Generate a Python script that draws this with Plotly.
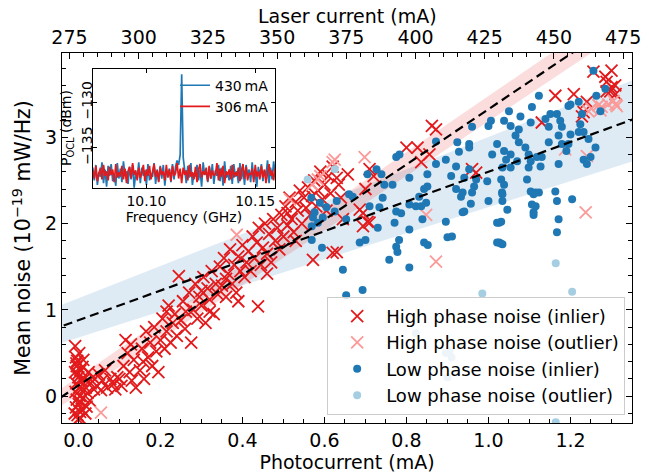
import numpy as np
import plotly.graph_objects as go

# ---------------- data ----------------
# High phase noise (inlier): photocurrent (mA), mean noise (1e-19 mW/Hz)
hi_in_x = [-0.008, -0.006, -0.004, -0.008, 0.0, -0.005, 0.002, -0.007, 0.003, -0.004, 0.001, -0.006, 0.004,
           -0.002, 0.0, 0.005, 0.006, -0.003, 0.002, -0.009, 0.003, 0.006, -0.001, 0.004, -0.005,
           0.01, 0.015, 0.012, 0.018, 0.02, 0.025, 0.022, 0.03, 0.028, 0.035, 0.012, 0.017, 0.038, 0.008,
           0.045, 0.05, 0.058, 0.065, 0.07, 0.078, 0.085, 0.055,
           0.09, 0.1, 0.105, 0.11, 0.115, 0.12, 0.125, 0.13, 0.135, 0.14, 0.128, 0.095,
           0.15, 0.155, 0.16, 0.165, 0.17, 0.175, 0.18, 0.185, 0.19, 0.195, 0.2, 0.158,
           0.205, 0.21, 0.215, 0.22, 0.225, 0.23, 0.235, 0.24, 0.245, 0.25, 0.255, 0.26, 0.215, 0.262,
           0.27, 0.275, 0.28, 0.285, 0.29, 0.295, 0.3, 0.305, 0.31, 0.315, 0.32, 0.325, 0.33, 0.335, 0.34, 0.345, 0.3, 0.32,
           0.35, 0.355, 0.36, 0.365, 0.37, 0.375, 0.38, 0.385, 0.39, 0.395, 0.4, 0.405, 0.41, 0.36, 0.39,
           0.415, 0.42, 0.425, 0.43, 0.435, 0.438, 0.44, 0.445, 0.45, 0.455, 0.46, 0.465, 0.47, 0.475, 0.48, 0.485, 0.49, 0.46,
           0.495, 0.5, 0.505, 0.51, 0.515, 0.52, 0.525, 0.53, 0.535, 0.54, 0.545, 0.55, 0.555, 0.56, 0.565, 0.57, 0.51, 0.53, 0.572,
           0.575, 0.58, 0.585, 0.59, 0.595, 0.6, 0.605, 0.61, 0.615, 0.62, 0.63, 0.63, 0.635, 0.64, 0.657, 0.645, 0.62, 0.686, 0.705,
           0.694, 0.71, 0.694, 0.70, 0.71, 0.72, 0.80, 0.827, 0.856, 0.836, 0.872, 0.862, 0.97, 0.96,
           1.13, 1.163, 1.208, 1.232, 1.24, 1.228, 1.256, 1.285, 1.3, 1.288, 1.309, 1.297, 1.3, 1.31, 1.288]
hi_in_y = [0.58, 0.45, 0.35, 0.28, 0.22, 0.15, 0.10, 0.05, 0.0, -0.04, -0.09, -0.13, -0.18,
           -0.22, -0.27, 0.30, 0.18, 0.41, 0.50, -0.20, -0.25, 0.08, 0.26, -0.06, 0.38,
           0.34, 0.20, -0.02, 0.10, -0.12, 0.28, 0.04, 0.15, -0.05, 0.22, 0.42, -0.20, 0.08, -0.15,
           0.12, 0.25, 0.18, 0.30, 0.10, 0.20, 0.14, 0.07,
           0.08, 0.20, 0.12, 0.35, 0.65, 0.50, 0.28, 0.18, 0.42, 0.10, 0.60, 0.22,
           0.30, 0.55, 0.20, 0.75, 0.45, 0.62, 0.35, 0.80, 0.52, 0.28, 0.65, 0.40,
           0.90, 0.55, 0.75, 1.05, 0.62, 0.85, 0.95, 0.70, 1.39, 0.88, 1.10, 0.78, 0.98, 0.98,
           1.20, 0.62, 1.00, 1.30, 0.90, 1.15, 1.05, 1.38, 0.85, 1.25, 1.12, 1.45, 0.95, 1.30, 1.18, 1.50, 1.22, 0.98,
           1.28, 1.60, 1.15, 1.42, 1.70, 1.30, 1.52, 1.20, 1.62, 1.45, 1.75, 1.38, 1.55, 1.36, 1.10,
           1.68, 1.45, 1.85, 1.60, 1.78, 1.04, 1.95, 1.52, 1.72, 2.00, 1.65, 1.88, 1.55, 2.05, 1.80, 1.95, 1.70, 1.42,
           2.10, 1.85, 2.20, 1.98, 2.30, 2.05, 1.90, 2.25, 2.15, 2.38, 2.00, 2.30, 2.18, 2.42, 2.10, 2.32, 2.12, 1.80, 1.58,
           2.50, 2.20, 2.38, 2.60, 2.28, 2.45, 2.15, 2.55, 2.35, 1.66, 2.53, 1.67, 2.45, 2.30, 2.57, 2.05, 2.66, 2.16, 2.02,
           2.12, 2.01, 1.97, 2.40, 2.63, 2.55, 2.88, 2.88, 2.80, 2.71, 3.09, 3.13, 2.59, 2.63,
           3.17, 3.48, 3.50, 3.29, 3.41, 3.24, 3.76, 3.70, 3.77, 3.64, 3.60, 3.53, 3.58, 3.50, 3.53]

# High phase noise (outlier)
hi_out_x = [0.055, 0.386, 0.516, 0.584, 0.62, 0.625, 0.698, 0.848, 0.872, 1.187, 1.24, 1.237,
            1.251, 1.276, 1.292, 1.31, 1.305, 1.313, 1.268, 1.244, 1.273, 0.59, 0.57]
hi_out_y = [-0.19, 1.87, 2.28, 2.51, 2.71, 2.74, 2.77, 2.10, 1.56, 2.86, 2.78, 2.13,
            3.33, 3.35, 3.38, 3.38, 3.42, 3.36, 3.37, 3.30, 3.31, 2.55, 2.45]

# Low phase noise (inlier)
lo_in_x = [0.568, 0.589, 0.605, 0.576, 0.572, 0.596, 0.584, 0.569, 0.63, 0.625, 0.569, 0.594,
           0.645, 0.653, 0.693, 0.686, 0.70, 0.73, 0.71, 0.734, 0.742, 0.727, 0.739, 0.746, 0.766,
           0.758, 0.775, 0.778, 0.782, 0.771, 0.775, 0.787, 0.807, 0.807, 0.807, 0.775, 0.783, 0.807,
           0.831, 0.823, 0.836, 0.848, 0.851, 0.843, 0.839, 0.843, 0.872, 0.872, 0.896, 0.909, 0.896,
           0.90, 0.911, 0.924, 0.928, 0.921, 0.933, 0.941, 0.941, 0.953, 0.96, 0.965, 0.66, 0.669,
           0.653, 0.705, 0.852, 1.026, 1.03, 0.937, 0.957, 1.026, 1.033, 1.11, 1.115, 0.851, 0.921, 0.937,
           1.006, 1.0, 1.05, 1.038, 1.054, 1.078, 1.074, 1.103, 1.123, 1.106, 1.139, 1.151, 1.167,
           1.147, 1.175, 1.179, 1.171, 1.195, 1.22, 1.224, 1.232, 1.2, 1.256, 1.263, 1.273, 0.953,
           0.953, 0.96, 0.97, 0.997, 1.0, 1.009, 1.021, 1.038, 1.054, 1.043, 1.054, 1.034, 1.031,
           1.038, 1.034, 1.034, 1.031, 1.021, 1.021, 1.034, 1.046, 1.066, 1.074, 1.09, 1.07, 1.098,
           1.103, 1.098, 1.094, 1.103, 1.11, 1.106, 1.115, 1.123, 1.11, 1.118, 1.13, 1.127, 1.147,
           1.163, 1.167, 1.171, 1.171, 1.167, 1.179, 1.195, 1.19, 1.204, 1.22, 1.244, 1.232, 1.24,
           1.249, 1.261, 1.2, 1.228, 1.285]
lo_in_y = [2.30, 2.24, 2.19, 2.13, 2.07, 2.07, 2.01, 1.97, 2.26, 2.14, 1.81, 1.72,
           1.465, 1.17, 1.23, 1.78, 1.81, 1.95, 2.20, 2.19, 2.30, 2.63, 2.57, 2.45, 2.45,
           1.58, 1.73, 1.67, 1.81, 2.01, 2.14, 2.12, 1.49, 1.93, 2.22, 2.77, 2.80, 2.53,
           2.31, 2.20, 2.20, 2.24, 2.57, 2.40, 2.05, 1.78, 2.69, 2.95, 2.74, 2.55, 2.02,
           1.84, 1.85, 2.94, 2.83, 2.40, 2.31, 2.14, 2.53, 2.88, 3.12, 2.43, 2.34, 2.31,
           2.05, 2.57, 1.75, 1.78, 1.77, 2.13, 2.23, 2.01, 2.36, 2.13, 2.36, 2.43, 2.66, 2.36,
           3.19, 3.13, 3.30, 3.19, 3.13, 3.24, 3.09, 3.17, 3.48, 3.35, 3.21, 3.27, 3.27,
           3.12, 3.19, 3.12, 3.02, 3.36, 3.41, 3.15, 3.06, 3.03, 3.77, 3.48, 3.30, 2.92,
           2.63, 2.36, 2.51, 2.49, 2.26, 2.80, 2.92, 2.84, 2.80, 2.74, 2.65, 2.65, 2.51,
           2.45, 2.34, 2.26, 2.02, 2.01, 1.78, 1.76, 2.16, 3.02, 2.94, 2.88, 2.72, 2.80,
           2.72, 2.65, 2.51, 2.37, 2.34, 2.22, 2.20, 2.36, 2.10, 2.77, 2.77, 2.66, 2.94,
           2.37, 2.26, 2.69, 2.05, 1.90, 2.92, 2.92, 2.84, 2.28, 3.06, 2.98, 2.74, 2.69,
           2.77, 2.88, 3.38, 3.27, 3.56]

# Low phase noise (outlier)
lo_out_x = [0.625, 0.559, 0.985, 1.164, 1.204, 1.164, 0.823, 0.896, 0.905, 0.90, 0.91]
lo_out_y = [2.63, 2.51, 1.19, 1.54, 1.21, -0.30, 0.73, 0.50, 0.52, 0.22, 0.45]

# Linear fits and their shaded bands: (slope, intercept)
hi_fit = (3.20, 0.124)
hi_band_upper = (3.25, 0.226)
hi_band_lower = (3.16, 0.023)
lo_fit = (1.72, 0.88)
lo_band_upper = (1.867, 1.135)
lo_band_lower = (1.51, 0.68)

# Top axis: laser current tick labels (mA)
laser_ticks = [275, 300, 325, 350, 375, 400, 425, 450, 475]

# Inset spectra (dBm) over 10.0753 ... 10.1592 GHz
spec_430 = [-137.2, -138.6, -136.9, -139.1, -137.7, -138.2, -136.6, -138.9, -137.4, -139.3,
            -137.0, -138.1, -136.8, -138.7, -137.9, -139.2, -136.7, -138.4, -137.3, -138.8,
            -136.5, -138.0, -137.6, -139.0, -137.1, -138.5, -136.9, -139.4, -137.8, -138.3,
            -136.6, -138.9, -137.2, -138.1, -137.5, -139.1, -136.8, -138.6, -137.9, -138.2,
            -136.7, -139.0, -137.4, -138.7, -137.0, -138.4, -136.9, -139.2, -137.6, -138.0,
            -137.3, -138.8, -136.8, -138.5, -137.1, -136.4, -136.9, -135.8, -126.9, -136.1,
            -137.5, -138.9, -137.0, -138.3, -136.7, -139.1, -137.8, -138.2, -136.9, -138.6,
            -137.4, -139.3, -136.6, -138.0, -137.7, -138.8, -137.1, -138.4, -136.8, -139.0,
            -137.5, -138.1, -136.9, -138.7, -137.2, -139.2, -136.5, -138.3, -137.9, -138.6,
            -137.0, -139.0, -136.8, -138.2, -137.6, -138.9, -136.7, -138.5, -137.3, -139.1,
            -136.9, -138.0, -137.4, -138.8, -136.6, -138.4, -137.8, -139.3, -137.1, -138.2,
            -136.8, -138.7, -137.5, -138.1, -136.4, -138.9, -137.2, -138.5, -136.5, -138.0]
spec_306 = [-137.5, -138.4, -137.0, -138.7, -137.8, -137.2, -138.5, -136.9, -138.1, -137.6,
            -138.6, -137.1, -138.0, -137.4, -138.8, -136.8, -138.3, -137.7, -138.2, -137.0,
            -138.5, -137.3, -138.9, -137.6, -137.1, -138.4, -136.7, -138.0, -137.5, -138.6,
            -137.2, -138.3, -137.8, -136.9, -138.7, -137.4, -138.1, -137.0, -138.5, -137.7,
            -136.8, -138.2, -137.5, -138.8, -137.1, -138.0, -137.6, -138.6, -136.9, -138.3,
            -137.4, -138.7, -137.0, -138.1, -137.8, -136.7, -138.4, -137.3, -138.9, -137.2,
            -138.0, -137.5, -138.6, -136.9, -138.2, -137.7, -138.5, -137.1, -138.8, -137.4,
            -136.8, -138.3, -137.6, -138.0, -137.2, -138.7, -137.0, -138.4, -137.5, -138.1,
            -137.9, -136.7, -138.6, -137.3, -138.2, -137.0, -138.9, -137.6, -138.0, -137.4,
            -138.5, -136.9, -138.3, -137.7, -138.1, -137.2, -138.7, -137.5, -136.8, -138.4,
            -137.1, -138.6, -137.8, -138.0, -137.3, -138.8, -136.9, -138.2, -137.6, -138.5,
            -137.0, -138.3, -137.4, -138.9, -137.7, -136.8, -138.1, -137.5, -138.6, -137.2]
freq = np.linspace(10.0753, 10.1592, len(spec_430))

# ---------------- styling ----------------
FONT = "DejaVu Sans"
RED = "#e31a1c"
LRED = "#fb9a99"
BLUE = "#1f78b4"
LBLUE = "#a6cee3"
TICK_SIZE = 19
TITLE_SIZE = 19
YTITLE_SIZE = 20.5
INSET_SIZE = 14

fig = go.Figure()

xs = np.array([-0.1, 1.45])


def line(p, x):
    return p[0] * x + p[1]


def band(lo, hi, color):
    bx = [xs[0], xs[1], xs[1], xs[0]]
    by = [line(lo, xs[0]), line(lo, xs[1]), line(hi, xs[1]), line(hi, xs[0])]
    return go.Scatter(x=bx, y=by, fill="toself", fillcolor=color, mode="none",
                      showlegend=False, hoverinfo="skip")


fig.add_trace(band(lo_band_lower, lo_band_upper, "rgba(31,120,180,0.15)"))
fig.add_trace(band(hi_band_lower, hi_band_upper, "rgba(227,26,28,0.15)"))

fig.add_trace(go.Scatter(x=hi_in_x, y=hi_in_y, mode="markers", name="High phase noise (inlier)",
                         marker=dict(symbol="x-thin", size=12, line=dict(width=1.8, color=RED), color=RED),
                         legendgroup="a"))
fig.add_trace(go.Scatter(x=hi_out_x, y=hi_out_y, mode="markers", name="High phase noise (outlier)",
                         marker=dict(symbol="x-thin", size=12, line=dict(width=1.8, color=LRED), color=LRED),
                         legendgroup="b"))
fig.add_trace(go.Scatter(x=lo_in_x, y=lo_in_y, mode="markers", name="Low phase noise (inlier)",
                         marker=dict(symbol="circle", size=8, color=BLUE, line=dict(width=0)),
                         legendgroup="c"))
fig.add_trace(go.Scatter(x=lo_out_x, y=lo_out_y, mode="markers", name="Low phase noise (outlier)",
                         marker=dict(symbol="circle", size=8, color=LBLUE, line=dict(width=0)),
                         legendgroup="d"))

for p in (hi_fit, lo_fit):
    fig.add_trace(go.Scatter(x=xs, y=line(p, xs), mode="lines",
                             line=dict(color="black", width=2.2, dash="9px,5px"),
                             showlegend=False, hoverinfo="skip"))

# helper trace so the top (laser current) axis is drawn
fig.add_trace(go.Scatter(x=laser_ticks, y=[None] * len(laser_ticks), xaxis="x2", yaxis="y",
                         mode="markers", showlegend=False, hoverinfo="skip"))

# inset spectra
fig.add_trace(go.Scatter(x=freq, y=spec_430, xaxis="x3", yaxis="y3", mode="lines",
                         line=dict(color=BLUE, width=1.7), name="430\u2009mA", legend="legend2"))
fig.add_trace(go.Scatter(x=freq, y=spec_306, xaxis="x3", yaxis="y3", mode="lines",
                         line=dict(color=RED, width=1.7), name="306\u2009mA", legend="legend2"))

axis_common = dict(showline=True, linecolor="black", linewidth=1.2, ticks="inside",
                   tickcolor="black", ticklen=6, tickwidth=1.1, showgrid=False, zeroline=False,
                   automargin=False,
                   tickfont=dict(family=FONT, size=TICK_SIZE, color="black"))

fig.update_layout(
    template="none",
    width=649, height=476,
    margin=dict(l=62, r=17, t=53, b=53, autoexpand=False),
    paper_bgcolor="white", plot_bgcolor="white",
    font=dict(family=FONT, color="black"),
    xaxis=dict(axis_common, domain=[0, 1], range=[-0.04, 1.35], tick0=0, dtick=0.2,
               tickformat=".1f", anchor="y",
               minor=dict(dtick=0.05, ticks="inside", ticklen=3.5, tickcolor="black"),
               title=dict(text="Photocurrent (mA)", font=dict(family=FONT, size=TITLE_SIZE), standoff=4)),
    xaxis2=dict(axis_common, overlaying="x", side="top", anchor="y", range=[272.3, 478.2],
                tickvals=laser_ticks, ticktext=[str(v) for v in laser_ticks],
                minor=dict(dtick=5, tick0=275, ticks="inside", ticklen=3.5, tickcolor="black")),
    yaxis=dict(axis_common, domain=[0, 1], range=[-0.31, 3.975], tick0=0, dtick=1, mirror="ticks",
               minor=dict(dtick=0.2, ticks="inside", ticklen=3.5, tickcolor="black"),
               title=dict(text="Mean noise (10<sup>\u221219</sup> mW/Hz)",
                          font=dict(family=FONT, size=YTITLE_SIZE), standoff=8)),
    xaxis3=dict(axis_common, domain=[0.054, 0.374], anchor="y3", range=[10.0753, 10.1592],
                tickvals=[10.10, 10.15], tickformat=".2f", mirror="ticks", ticklen=4,
                tickfont=dict(family=FONT, size=INSET_SIZE, color="black"),
                title=dict(text="Frequency (GHz)", font=dict(family=FONT, size=INSET_SIZE), standoff=0)),
    yaxis3=dict(axis_common, domain=[0.635, 0.957], anchor="x3", range=[-139.45, -126.3],
                tickvals=[-135, -130], tickangle=-90, mirror="ticks", ticklen=4,
                ticklabelstandoff=-6,
                tickfont=dict(family=FONT, size=INSET_SIZE, color="black")),
    legend=dict(x=0.988, xanchor="right", y=0.022, yanchor="bottom",
                bgcolor="rgba(255,255,255,0.8)", bordercolor="#cccccc", borderwidth=1,
                font=dict(family=FONT, size=18, color="black"),
                traceorder="grouped", tracegroupgap=0, itemwidth=48),
    legend2=dict(x=0.372, xanchor="right", y=0.955, yanchor="top", bgcolor="rgba(0,0,0,0)",
                 font=dict(family=FONT, size=INSET_SIZE, color="black"), itemwidth=30,
                 tracegroupgap=0),
    annotations=[
        dict(text="P<sub>OCL</sub> (dBm)", textangle=-90, xref="paper", yref="paper",
             x=(67 - 62) / 570, y=1 - (128 - 53) / 370, xanchor="center", yanchor="middle",
             showarrow=False, font=dict(family=FONT, size=INSET_SIZE, color="black")),
        dict(text="Laser current (mA)", xref="paper", yref="paper",
             x=0.5, y=1 + (53 - 16) / 370, xanchor="center", yanchor="middle", showarrow=False,
             font=dict(family=FONT, size=TITLE_SIZE, color="black")),
    ],
)

fig.write_html("out.html", config={"displayModeBar": False},
               post_script="document.body.style.margin='0';")
